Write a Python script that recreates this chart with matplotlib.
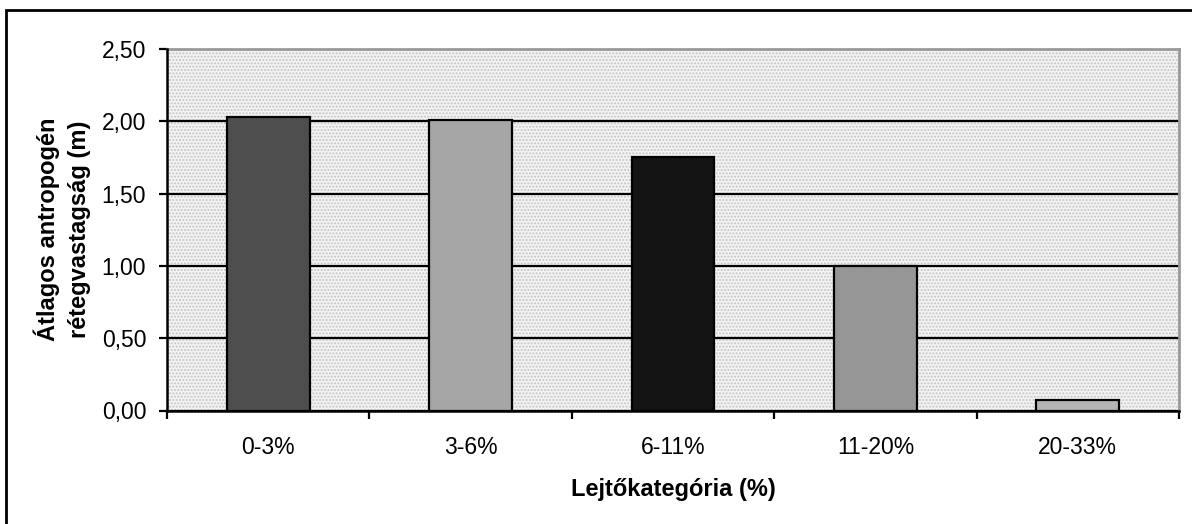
import matplotlib
matplotlib.use("Agg")
import matplotlib.pyplot as plt
from matplotlib.patches import Rectangle

plt.rcParams['font.family'] = ['Liberation Sans', 'DejaVu Sans']

categories = ['0-3%', '3-6%', '6-11%', '11-20%', '20-33%']
values = [2.03, 2.01, 1.75, 1.00, 0.07]
bar_colors = ['#4e4e4e', '#a6a6a6', '#141414', '#969696', '#b4b4b4']
yticks = [0.0, 0.5, 1.0, 1.5, 2.0, 2.5]
ytick_labels = ['0,00', '0,50', '1,00', '1,50', '2,00', '2,50']
xlabel = 'Lejtőkategória (%)'
ylabel = 'Átlagos antropogén\nrétegvastagság (m)'

W, H = 1192, 524
fig = plt.figure(figsize=(W / 100, H / 100), dpi=100)

# outer chart frame (right/bottom edges fall outside the canvas)
fig.add_artist(Rectangle((6 / W, -0.05), 1.2, 1 - 10 / H + 0.05,
                         transform=fig.transFigure, fill=False,
                         edgecolor='black', linewidth=2, clip_on=False))

ax = fig.add_axes([167 / W, (H - 410.5) / H, 1012 / W, 361.5 / H])

# dotted plot-area background
ax.set_facecolor('#f4f4f4')
ax.add_patch(Rectangle((0, 0), 1, 1, transform=ax.transAxes, facecolor='none',
                       edgecolor='#c4c4c4', hatch='.....', linewidth=0, zorder=0))

x = range(len(categories))
ax.bar(x, values, width=0.41, color=bar_colors, edgecolor='black',
       linewidth=1.6, zorder=3)

ax.set_xlim(-0.5, len(categories) - 0.5)
ax.set_ylim(0, 2.5)
ax.set_yticks(yticks)
ax.set_yticklabels(ytick_labels)
ax.set_xticks(list(x))
ax.set_xticklabels(categories)
ax.tick_params(axis='x', length=0, pad=18, labelsize=16.5)
ax.set_xticks([i + 0.5 for i in range(-1, len(categories))], minor=True)
ax.tick_params(axis='x', which='minor', length=6, width=1.6, direction='out')
ax.tick_params(axis='y', length=6, width=1.6, direction='out', pad=9, labelsize=16.5)

ax.yaxis.grid(True, color='black', linewidth=1.6, zorder=1)
ax.set_axisbelow(True)

for side in ('top', 'right'):
    ax.spines[side].set_color('#9a9a9a')
    ax.spines[side].set_linewidth(2)
for side in ('left', 'bottom'):
    ax.spines[side].set_color('black')
    ax.spines[side].set_linewidth(1.8)
    ax.spines[side].set_zorder(4)

ax.set_xlabel(xlabel, fontsize=17, fontweight='bold', labelpad=14)
ax.set_ylabel(ylabel, fontsize=17, fontweight='bold', labelpad=8,
              linespacing=1.4)

fig.savefig('out.png', dpi=100)
